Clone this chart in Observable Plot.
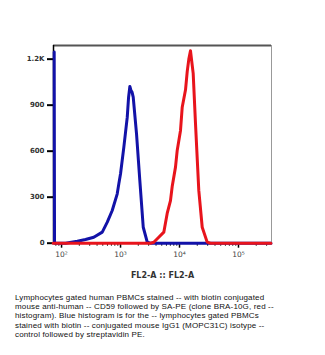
<!DOCTYPE html>
<html><head><meta charset="utf-8">
<script src="https://cdn.jsdelivr.net/npm/d3@7"></script>
<script src="https://cdn.jsdelivr.net/npm/@observablehq/plot@0.6"></script>
<style>
body{margin:0;background:#fff;width:325px;height:355px;overflow:hidden;position:relative}
#cap{position:absolute;left:15px;top:293px;font-family:"Liberation Sans",Arial,sans-serif;font-size:8px;letter-spacing:0.15px;color:#111;white-space:nowrap}
#cap div{height:9.2px;line-height:9.2px}
</style></head><body>
<div id="chart"></div>
<div id="cap"></div>
<script>
// Isotype control (blue) histogram
const blueFL2   = [75, 76, 117, 185, 255, 352, 490, 596, 723, 879, 938, 1000, 1138, 1300, 1368, 1439, 1507, 1567, 1641, 1866, 2123, 2427, 2838, 3221, 354813];
const blueCount = [1246, 0, 0, 13, 24, 39, 72, 137, 213, 322, 390, 453, 626, 822, 950, 1022, 995, 985, 952, 715, 409, 104, 7, 0, 0];
// CD59 stained (red) histogram
const redFL2   = [72, 3221, 3664, 4406, 5420, 6180, 7031, 7516, 8551, 9141, 10399, 11117, 12647, 13521, 14388, 15346, 17061, 18664, 21232, 24266, 29444, 33497, 354813];
const redCount = [0, 0, 6, 37, 72, 194, 278, 370, 496, 605, 735, 887, 1000, 1120, 1200, 1255, 1107, 781, 344, 104, 7, 0, 0];

const xMajorTicks = [100, 1000, 10000, 100000];
const xTickLabels = ["10²", "10³", "10⁴", "10⁵"];
const xMinorTicks = [80, 90, 200, 300, 400, 500, 600, 700, 800, 900, 2000, 3000, 4000, 5000, 6000, 7000, 8000, 9000,
  20000, 30000, 40000, 50000, 60000, 70000, 80000, 90000, 200000, 300000];
const yTicks = [0, 300, 600, 900, 1200];
const yTickLabels = ["0", "300", "600", "900", "1.2K"];
const xDomain = [73, 363000];
const yDomain = [0, 1289];
const xTitle = "FL2-A :: FL2-A";
const captionLines = [
  "Lymphocytes gated human PBMCs stained -- with biotin conjugated",
  "mouse anti-human -- CD59 followed by SA-PE (clone BRA-10G, red --",
  "histogram). Blue histogram is for the -- lymphocytes gated PBMCs",
  "stained with biotin -- conjugated mouse IgG1 (MOPC31C) isotype --",
  "control followed by streptavidin PE."
];

const blue = blueFL2.map((x, i) => ({x, y: blueCount[i]}));
const red = redFL2.map((x, i) => ({x, y: redCount[i]}));

const chart = Plot.plot({
  width: 325,
  height: 290,
  marginTop: 45,
  marginBottom: 47.3,
  marginLeft: 53,
  marginRight: 54,
  style: {fontFamily: "'DejaVu Sans', sans-serif", background: "#fff"},
  x: {type: "log", domain: xDomain},
  y: {domain: yDomain},
  marks: [
    Plot.ruleY([yDomain[1]], {stroke: "#555", strokeWidth: 2}),
    Plot.ruleX([xDomain[1]], {stroke: "#999", strokeWidth: 1}),
    Plot.ruleX([xDomain[0]], {stroke: "#000", strokeWidth: 1.5}),
    Plot.axisY({ticks: yTicks, tickFormat: (d) => yTickLabels[yTicks.indexOf(d)], tickSize: 6, tickPadding: 3, fontSize: 7, fontWeight: "bold", fill: "#333", stroke: "#000", strokeWidth: 2, label: null}),
    Plot.axisX({ticks: xMinorTicks, tickFormat: () => "", tickSize: 3, stroke: "#000", strokeWidth: 1, label: null}),
    Plot.axisX({ticks: xMajorTicks, tickFormat: d => xTickLabels[xMajorTicks.indexOf(d)], tickSize: 5, tickPadding: 3.5, fontSize: 7.5, fill: "#444", stroke: "#000", strokeWidth: 1.5, label: null}),
    Plot.text([xTitle], {frameAnchor: "bottom", dy: 35, fontSize: 8, fontWeight: "bold", fill: "#333"}),
    Plot.line(blue, {x: "x", y: "y", stroke: "#1212a8", strokeWidth: 3, curve: "linear"}),
    Plot.line(red, {x: "x", y: "y", stroke: "#e8141c", strokeWidth: 3, curve: "linear"})
  ]
});
document.getElementById("chart").append(chart);
const cap = document.getElementById("cap");
captionLines.forEach(s => { const d = document.createElement("div"); d.textContent = s; cap.append(d); });
</script>
</body></html>
